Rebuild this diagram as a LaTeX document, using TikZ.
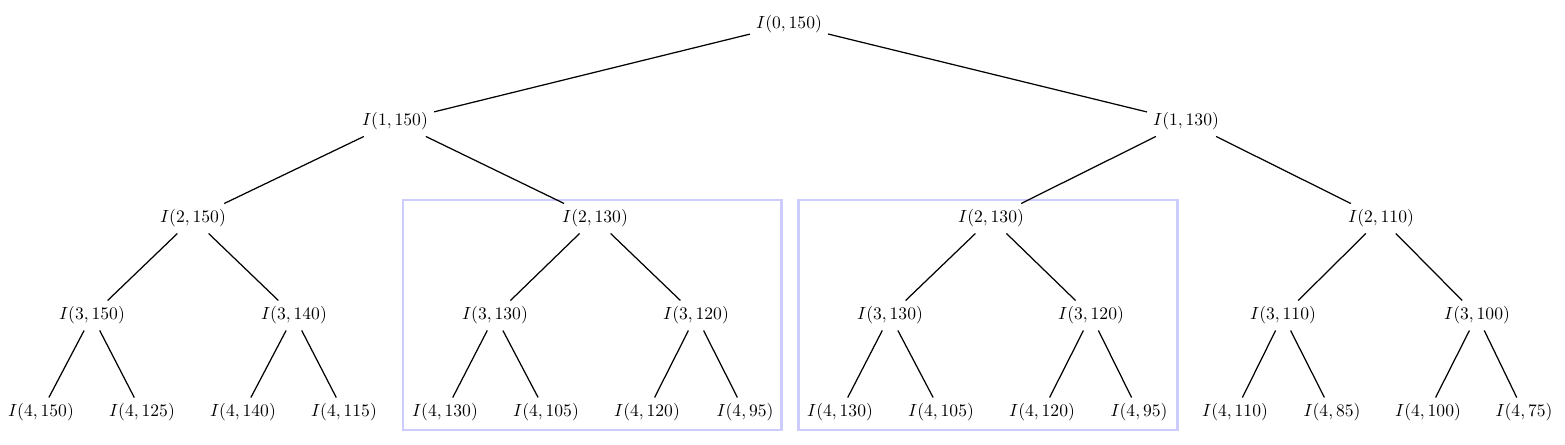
\documentclass[tikz,border=0pt]{standalone}
\begin{document}
\begin{tikzpicture}[x=0.02cm,y=-0.02cm,
  lbl/.style={inner sep=3.33pt, yshift=-0.03cm},
  edge/.style={line width=0.7pt},
  grp/.style={draw=blue!20, line width=1.7pt}]
\useasboundingbox (0,0) rectangle (1565,445);
\draw[grp] (403,200) rectangle (781,430);
\draw[grp] (798,200) rectangle (1177,430);
% level 0
\node[lbl] (r) at (789,23) {$I(0,150)$};
% level 1
\node[lbl] (a) at (395,120) {$I(1,150)$};
\node[lbl] (b) at (1186,120) {$I(1,130)$};
% level 2
\node[lbl] (aa) at (193,217) {$I(2,150)$};
\node[lbl] (ab) at (595,217) {$I(2,130)$};
\node[lbl] (ba) at (991,217) {$I(2,130)$};
\node[lbl] (bb) at (1381,217) {$I(2,110)$};
% level 3
\node[lbl] (aaa) at (92,314) {$I(3,150)$};
\node[lbl] (aab) at (294,314) {$I(3,140)$};
\node[lbl] (aba) at (495,314) {$I(3,130)$};
\node[lbl] (abb) at (696,314) {$I(3,120)$};
\node[lbl] (baa) at (890,314) {$I(3,130)$};
\node[lbl] (bab) at (1091,314) {$I(3,120)$};
\node[lbl] (bba) at (1283,314) {$I(3,110)$};
\node[lbl] (bbb) at (1477,314) {$I(3,100)$};
% level 4
\node[lbl] (aaaa) at (41,411) {$I(4,150)$};
\node[lbl] (aaab) at (142,411) {$I(4,125)$};
\node[lbl] (aaba) at (243,411) {$I(4,140)$};
\node[lbl] (aabb) at (344,411) {$I(4,115)$};
\node[lbl] (abaa) at (445,411) {$I(4,130)$};
\node[lbl] (abab) at (546,411) {$I(4,105)$};
\node[lbl] (abba) at (647,411) {$I(4,120)$};
\node[lbl] (abbb) at (745,411) {$I(4,95)$};
\node[lbl] (baaa) at (840,411) {$I(4,130)$};
\node[lbl] (baab) at (941,411) {$I(4,105)$};
\node[lbl] (baba) at (1042,411) {$I(4,120)$};
\node[lbl] (babb) at (1139,411) {$I(4,95)$};
\node[lbl] (bbaa) at (1235,411) {$I(4,110)$};
\node[lbl] (bbab) at (1332,411) {$I(4,85)$};
\node[lbl] (bbba) at (1428,411) {$I(4,100)$};
\node[lbl] (bbbb) at (1524,411) {$I(4,75)$};
% edges
\draw[edge] (r) -- (a); \draw[edge] (r) -- (b);
\draw[edge] (a) -- (aa); \draw[edge] (a) -- (ab);
\draw[edge] (b) -- (ba); \draw[edge] (b) -- (bb);
\draw[edge] (aa) -- (aaa); \draw[edge] (aa) -- (aab);
\draw[edge] (ab) -- (aba); \draw[edge] (ab) -- (abb);
\draw[edge] (ba) -- (baa); \draw[edge] (ba) -- (bab);
\draw[edge] (bb) -- (bba); \draw[edge] (bb) -- (bbb);
\draw[edge] (aaa) -- (aaaa); \draw[edge] (aaa) -- (aaab);
\draw[edge] (aab) -- (aaba); \draw[edge] (aab) -- (aabb);
\draw[edge] (aba) -- (abaa); \draw[edge] (aba) -- (abab);
\draw[edge] (abb) -- (abba); \draw[edge] (abb) -- (abbb);
\draw[edge] (baa) -- (baaa); \draw[edge] (baa) -- (baab);
\draw[edge] (bab) -- (baba); \draw[edge] (bab) -- (babb);
\draw[edge] (bba) -- (bbaa); \draw[edge] (bba) -- (bbab);
\draw[edge] (bbb) -- (bbba); \draw[edge] (bbb) -- (bbbb);
\end{tikzpicture}
\end{document}
